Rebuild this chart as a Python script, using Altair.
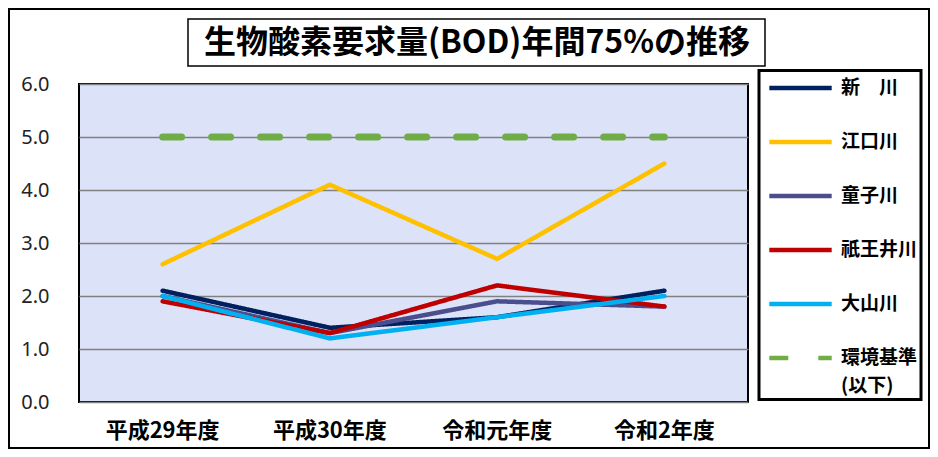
import altair as alt
import pandas as pd

years = ["平成29年度", "平成30年度", "令和元年度", "令和2年度"]
river_names = ["新　川", "江口川", "童子川", "祇王井川", "大山川"]
shinkawa = [2.1, 1.4, 1.6, 2.1]
eguchi = [2.6, 4.1, 2.7, 4.5]
doji = [2.0, 1.3, 1.9, 1.8]
giou = [1.9, 1.3, 2.2, 1.8]
oyama = [2.0, 1.2, 1.6, 2.0]
standard_name = "環境基準(以下)"
standard = [5.0, 5.0, 5.0, 5.0]
y_ticks = [0, 1, 2, 3, 4, 5, 6]
title_text = "生物酸素要求量(BOD)年間75%の推移"

colors = ["#002060", "#FFC000", "#4A4E8D", "#C00000", "#00B0F0", "#70AD47"]
dashes = [[1, 0]] * 5 + [[19, 30]]
all_names = river_names + [standard_name]

rows = []
for name, vals in zip(river_names, [shinkawa, eguchi, doji, giou, oyama]):
    for yr, v in zip(years, vals):
        rows.append({"series": name, "year": yr, "value": v})
rivers_df = pd.DataFrame(rows)
std_df = pd.DataFrame({"series": standard_name, "year": years, "value": standard})

JP = "Noto Sans CJK JP"

x_enc = alt.X(
    "year:N", sort=years, bandPosition=0.5,
    scale=alt.Scale(type="band", paddingInner=0, paddingOuter=0),
    axis=alt.Axis(title=None, bandPosition=0, labelAngle=0,
                  domain=False, ticks=False, labelFont=JP, labelFontSize=22,
                  labelFontWeight="bold", labelColor="black", labelPadding=18,
                  gridColor="#808080", gridWidth=1.5, gridOpacity=1),
)
y_enc = alt.Y(
    "value:Q", scale=alt.Scale(domain=[0, 6], nice=False),
    axis=alt.Axis(title=None, values=y_ticks, format=".1f", domain=False, ticks=False,
                  labelFont="Noto Sans", labelFontSize=20, labelColor="#222222",
                  labelPadding=30, gridColor="#808080", gridWidth=1.5, gridOpacity=1),
)


def make_legend():
    return alt.Legend(
        title=None, orient="none", legendX=680, legendY=-13.5,
        symbolType="M-2.6,0H2.6", symbolSize=576, symbolStrokeWidth=4.5,
        symbolOffset=24, labelOffset=26, rowPadding=29, padding=3,
        labelFont=JP, labelFontSize=19, labelFontWeight="bold", labelColor="black",
        labelLimit=300,
        labelExpr="datum.label == '環境基準(以下)' ? ['環境基準', '(以下)'] : datum.label",
    )


color_enc = alt.Color("series:N", scale=alt.Scale(domain=all_names, range=colors),
                      legend=make_legend())
dash_enc = alt.StrokeDash("series:N", scale=alt.Scale(domain=all_names, range=dashes),
                          legend=make_legend())

one = pd.DataFrame({"title": [title_text]})

frame = alt.Chart(one).mark_rect(fillOpacity=0, stroke="black", strokeWidth=2).encode(
    x=alt.value(-70), x2=alt.value(850), y=alt.value(-75), y2=alt.value(364)
)
title_box = alt.Chart(one).mark_rect(fill="white", stroke="black", strokeWidth=1.5).encode(
    x=alt.value(109), x2=alt.value(686), y=alt.value(-65), y2=alt.value(-18)
)
title = alt.Chart(one).mark_text(
    font=JP, fontSize=32, fontWeight="bold", color="black", align="center", baseline="middle"
).encode(x=alt.value(398), y=alt.value(-41), text="title:N")

lines = alt.Chart(rivers_df).mark_line(strokeWidth=4.5, strokeCap="round", strokeJoin="round").encode(
    x=x_enc, y=y_enc, color=color_enc, strokeDash=dash_enc
)
std_line = alt.Chart(std_df).mark_line(strokeWidth=7, strokeCap="round").encode(
    x=x_enc, y=y_enc, color=color_enc, strokeDash=dash_enc
)

chart = alt.layer(frame, title_box, title, lines, std_line).properties(
    width=669, height=318,
    autosize=alt.AutoSizeParams(type="none"),
    padding={"left": 71, "top": 76, "right": 182, "bottom": 47},
).configure(
    style={"guide-label": {"lineHeight": 28}}
).configure_view(
    fill="#DCE2F7", stroke="black", strokeWidth=2
).configure_legend(
    strokeColor="black", strokeWidth=3
)

chart.save("out.html", embed_options={"renderer": "svg", "actions": False})
